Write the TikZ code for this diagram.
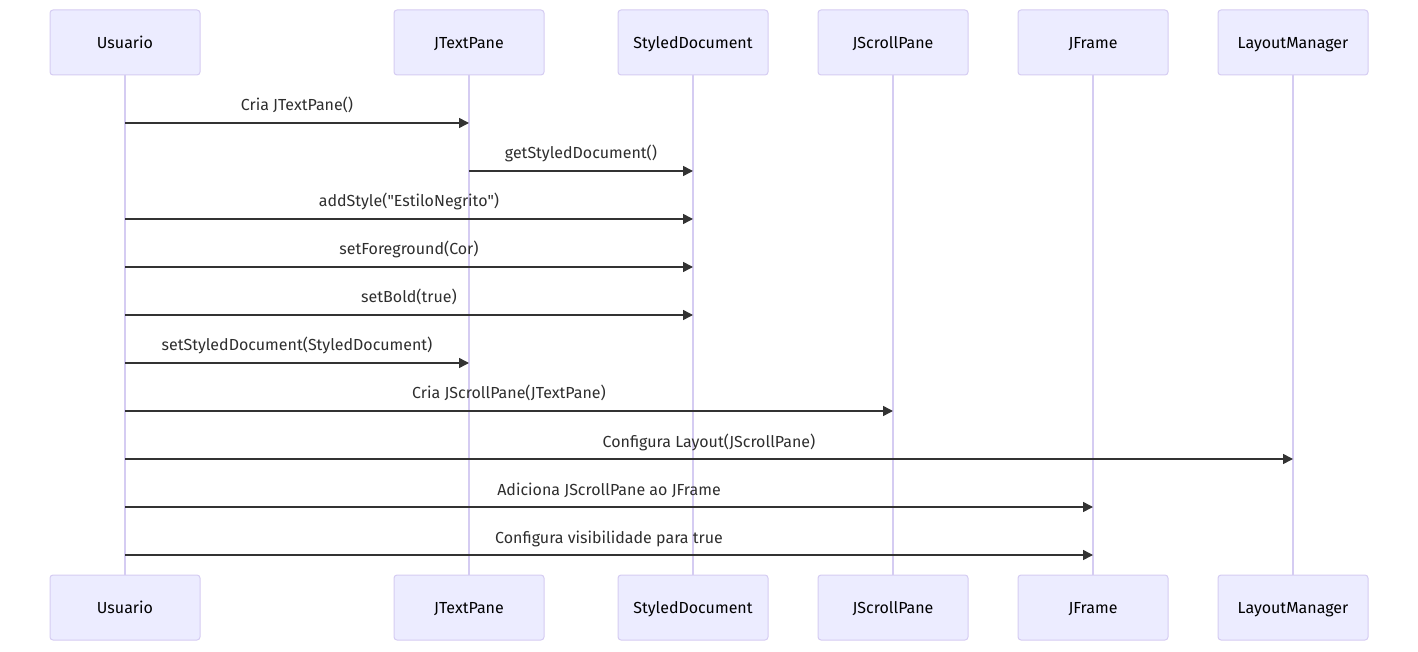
\documentclass[tikz,border=0pt]{standalone}
\usepackage{fontspec}
\setmainfont{Fira Sans}
\usetikzlibrary{positioning,arrows.meta}
\definecolor{actorfill}{HTML}{ECECFF}
\definecolor{actorline}{HTML}{D5CCF2}
\definecolor{msgline}{HTML}{333333}

\begin{document}
\begin{tikzpicture}[
        x=1pt, y=1pt,
        font=\fontsize{16}{19}\selectfont,
        actor/.style={
            draw=actorline,
            fill=actorfill,
            rectangle,
            rounded corners=3pt,
            align=center,
            minimum width=150pt,
            minimum height=65pt,
            line width=1pt,
            inner sep=0pt,
            outer sep=0pt,
            text height=12pt,
            text depth=0pt
        },
        life/.style={draw=actorline, line width=1.5pt},
        msg/.style={draw=msgline, line width=1.5pt, -{Triangle[length=10pt,width=10pt]}},
        msglabel/.style={midway, anchor=base, yshift=12pt, text=msgline!90!black}
    ]
    \useasboundingbox (0,0) rectangle (1418,651);

    % Top row
    \node[actor] (usr) at (125,608.5) {Usuario};
    \node[actor] (jtp) [right=194pt of usr] {JTextPane};
    \node[actor] (doc) [right=74pt of jtp] {StyledDocument};
    \node[actor] (jsp) [right=50pt of doc] {JScrollPane};
    \node[actor] (jfr) [right=50pt of jsp] {JFrame};
    \node[actor] (lay) [right=50pt of jfr] {LayoutManager};

    % Bottom row
    \node[actor] (usrB) [below=500pt of usr] {Usuario};
    \node[actor] (jtpB) [below=500pt of jtp] {JTextPane};
    \node[actor] (docB) [below=500pt of doc] {StyledDocument};
    \node[actor] (jspB) [below=500pt of jsp] {JScrollPane};
    \node[actor] (jfrB) [below=500pt of jfr] {JFrame};
    \node[actor] (layB) [below=500pt of lay] {LayoutManager};

    % Lifelines
    \draw[life] (usr.south) -- (usrB.north);
    \draw[life] (jtp.south) -- (jtpB.north);
    \draw[life] (doc.south) -- (docB.north);
    \draw[life] (jsp.south) -- (jspB.north);
    \draw[life] (jfr.south) -- (jfrB.north);
    \draw[life] (lay.south) -- (layB.north);

    % Message rows
    \coordinate (r1) at (0,528);
    \coordinate (r2) at (0,480);
    \coordinate (r3) at (0,432);
    \coordinate (r4) at (0,384);
    \coordinate (r5) at (0,336);
    \coordinate (r6) at (0,288);
    \coordinate (r7) at (0,240);
    \coordinate (r8) at (0,192);
    \coordinate (r9) at (0,144);
    \coordinate (r10) at (0,96);

    % Messages
    \draw[msg] (usr |- r1) -- node[msglabel] {Cria JTextPane()} (jtp |- r1);
    \draw[msg] (jtp |- r2) -- node[msglabel] {getStyledDocument()} (doc |- r2);
    \draw[msg] (usr |- r3) -- node[msglabel] {addStyle(\textquotedbl EstiloNegrito\textquotedbl)} (doc |- r3);
    \draw[msg] (usr |- r4) -- node[msglabel] {setForeground(Cor)} (doc |- r4);
    \draw[msg] (usr |- r5) -- node[msglabel] {setBold(true)} (doc |- r5);
    \draw[msg] (usr |- r6) -- node[msglabel] {setStyledDocument(StyledDocument)} (jtp |- r6);
    \draw[msg] (usr |- r7) -- node[msglabel] {Cria JScrollPane(JTextPane)} (jsp |- r7);
    \draw[msg] (usr |- r8) -- node[msglabel] {Configura Layout(JScrollPane)} (lay |- r8);
    \draw[msg] (usr |- r9) -- node[msglabel] {Adiciona JScrollPane ao JFrame} (jfr |- r9);
    \draw[msg] (usr |- r10) -- node[msglabel] {Configura visibilidade para true} (jfr |- r10);

\end{tikzpicture}
\end{document}
